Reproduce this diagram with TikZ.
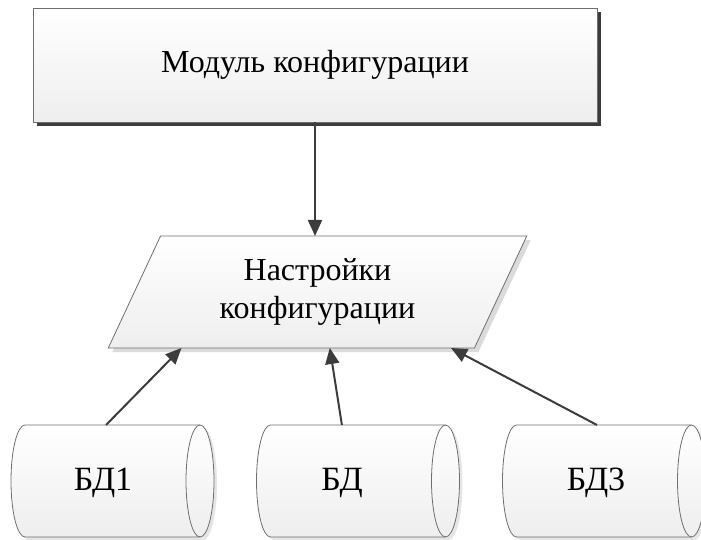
\documentclass[tikz,border=0pt]{standalone}
\usepackage{fontspec}
\setmainfont{Liberation Serif}
\usetikzlibrary{arrows.meta,shapes.geometric,shadows,calc}
\definecolor{edge}{HTML}{6E6E6E}
\definecolor{ink}{HTML}{3C3C3C}
\definecolor{shadeend}{HTML}{EEEEEE}
\tikzset{
  txt/.style={font=\fontsize{32}{38}\selectfont},
  modbox/.style={draw=edge, line width=0.8pt, top color=white, bottom color=shadeend,
    minimum width=564pt, minimum height=114pt, inner sep=0pt, outer sep=0pt, txt,
    drop shadow={shadow xshift=4pt, shadow yshift=-4pt, fill=ink, opacity=1}},
  setbox/.style={trapezium, trapezium left angle=64, trapezium right angle=116,
    trapezium stretches=true, minimum width=419pt, minimum height=112pt,
    draw=edge, line width=0.8pt, top color=white, bottom color=shadeend,
    inner sep=0pt, outer sep=0pt, txt, align=center,
    drop shadow={shadow xshift=4pt, shadow yshift=-4pt, fill=black!14, opacity=1}},
  dbbody/.style={minimum width=175pt, minimum height=112pt, inner sep=0pt, outer sep=0pt},
  dbtext/.style={font=\fontsize{34}{40}\selectfont, inner sep=0pt},
  link/.style={draw=ink, line width=2pt, -{Triangle[length=16pt,width=14pt]}},
  cylline/.style={draw=edge, line width=0.8pt},
}
\begin{document}
\begin{tikzpicture}[x=1pt,y=-1pt]
  \useasboundingbox (0,0) rectangle (701,540);

  % configuration module
  \node[modbox] (mod) at (315,65) {Модуль конфигурации};

  % configuration settings (data parallelogram)
  \node[setbox] (cfg) at (317.5,292) {Настройки\\конфигурации};

  % database bodies
  \node[dbbody] (db1) at (112.5,481) {};
  \node[dbbody] (db2) at (358,481) {};
  \node[dbbody] (db3) at (604,481) {};

  % cylinders around the bodies
  \foreach \n in {db1,db2,db3}{
    \fill[black!10] ([xshift=3pt,yshift=-3pt]\n.north west)
      -- ([xshift=3pt,yshift=-3pt]\n.north east)
      arc[start angle=90,end angle=-90,x radius=14pt,y radius=56pt]
      -- ([xshift=3pt,yshift=-3pt]\n.south west)
      arc[start angle=270,end angle=90,x radius=14pt,y radius=56pt] -- cycle;
    \draw[cylline, top color=white, bottom color=shadeend] (\n.north west)
      -- (\n.north east)
      arc[start angle=90,end angle=-90,x radius=14pt,y radius=56pt]
      -- (\n.south west)
      arc[start angle=270,end angle=90,x radius=14pt,y radius=56pt] -- cycle;
    \draw[cylline] (\n.north east)
      arc[start angle=90,end angle=270,x radius=14pt,y radius=56pt];
  }

  % database labels
  \node[dbtext] (db1t) at (103,483) {БД1};
  \node[dbtext] (db2t) at (342,483) {БД};
  \node[dbtext] (db3t) at (596,483) {БД3};

  % connectors
  \draw[link] (mod.south) -- (mod.south |- cfg.north);
  \draw[link] ($(db1.north west)!0.463!(db1.north east)$)
    -- ($(cfg.bottom left corner)!0.20!(cfg.bottom right corner)$);
  \draw[link] ($(db2.north west)!0.408!(db2.north east)$)
    -- ($(cfg.bottom left corner)!0.605!(cfg.bottom right corner)$);
  \draw[link] ($(db3.north west)!0.46!(db3.north east)$)
    -- ($(cfg.bottom left corner)!0.936!(cfg.bottom right corner)$);
\end{tikzpicture}
\end{document}
